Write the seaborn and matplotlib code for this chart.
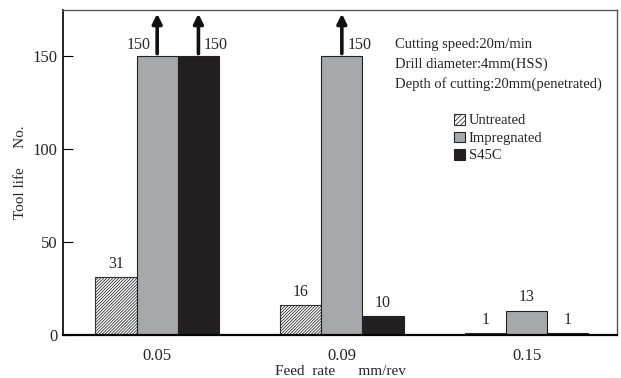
import numpy as np
import pandas as pd
import seaborn as sns
import matplotlib
matplotlib.use("Agg")
import matplotlib.pyplot as plt

feed_rates = ["0.05", "0.09", "0.15"]
series = ["Untreated", "Impregnated", "S45C"]
untreated = [31, 16, 1]
impregnated = [150, 150, 13]
s45c = [150, 10, 1]
capped = 150  # values shown with an arrow (test stopped, life exceeds)
notes = ["Cutting speed:20m/min", "Drill diameter:4mm(HSS)",
         "Depth of cutting:20mm(penetrated)"]

sns.set_theme(style="white")
plt.rcParams["font.family"] = ["Liberation Serif", "DejaVu Serif"]
plt.rcParams["hatch.linewidth"] = 0.6
plt.rcParams["hatch.color"] = "#333333"

rows = []
for name, vals in zip(series, [untreated, impregnated, s45c]):
    for fr, v in zip(feed_rates, vals):
        rows.append({"feed": fr, "series": name, "life": v})
df = pd.DataFrame(rows)

palette = {"Untreated": "white", "Impregnated": "#a7a8ab", "S45C": "#231f20"}
HATCH = "/" * 11

fig = plt.figure(figsize=(6.21, 3.78), dpi=100)
ax = fig.add_axes([63 / 621, 1 - 335 / 378, 554 / 621, 325 / 378])

sns.barplot(data=df, x="feed", y="life", hue="series", order=feed_rates,
            hue_order=series, palette=palette, width=0.67, saturation=1,
            edgecolor="#222222", linewidth=0.8, ax=ax, legend=True)

for bar in ax.containers[0]:
    bar.set_hatch(HATCH)
    bar.set_edgecolor("#333333")

ax.set_xlim(-0.51, 2.49)
ax.set_ylim(0, 175)
ax.set_yticks([0, 50, 100, 150])
ax.tick_params(axis="y", direction="in", length=7, width=0.8, labelsize=12,
               left=True, pad=4, color="black")
ax.tick_params(axis="x", length=0, labelsize=12, pad=9)
for side, sp in ax.spines.items():
    sp.set_color("black" if side in ("left", "bottom") else "#555555")
    sp.set_linewidth(1.2 if side in ("left", "bottom") else 1.0)
ax.spines["bottom"].set_linewidth(1.6)

ax.set_xlabel("Feed  rate      mm/rev", fontsize=11, labelpad=1)
ax.set_ylabel("Tool life     No.", fontsize=11, labelpad=4)

# value labels and arrows
for ci, cont in enumerate(ax.containers):
    for gi, bar in enumerate(cont.patches):
        v = bar.get_height()
        xc = bar.get_x() + bar.get_width() / 2
        if v >= capped:
            ax.annotate("", xy=(xc, 173), xytext=(xc, 151.5),
                        arrowprops=dict(arrowstyle="-|>", lw=2.6,
                                        color="#111111", mutation_scale=14,
                                        shrinkA=0, shrinkB=0))
            nxt_capped = (ci + 1 < len(ax.containers) and
                          ax.containers[ci + 1].patches[gi].get_height() >= capped)
            if nxt_capped:
                ax.annotate(f"{int(v)}", (xc, 156), xytext=(-5, 0),
                            textcoords="offset points", ha="right",
                            va="center", fontsize=11.5)
            else:
                ax.annotate(f"{int(v)}", (xc, 156), xytext=(4, 0),
                            textcoords="offset points", ha="left",
                            va="center", fontsize=11.5)
        else:
            ax.annotate(f"{int(v)}", (xc, v), xytext=(0, 4),
                        textcoords="offset points", ha="center",
                        va="bottom", fontsize=11.5)

for i, t in enumerate(notes):
    ax.text(0.599, 0.895 - i * 0.0615, t, transform=ax.transAxes,
            fontsize=10.5, va="center", ha="left")

leg = ax.legend(loc="upper left", bbox_to_anchor=(0.705, 0.68), frameon=False,
                fontsize=10.5, handlelength=0.75, handleheight=0.75,
                handletextpad=0.3, labelspacing=0.28, borderpad=0,
                borderaxespad=0)
h0 = leg.legend_handles[0]
h0.set_hatch("/" * 7)
h0.set_edgecolor("#333333")

fig.savefig("out.png", dpi=100)
